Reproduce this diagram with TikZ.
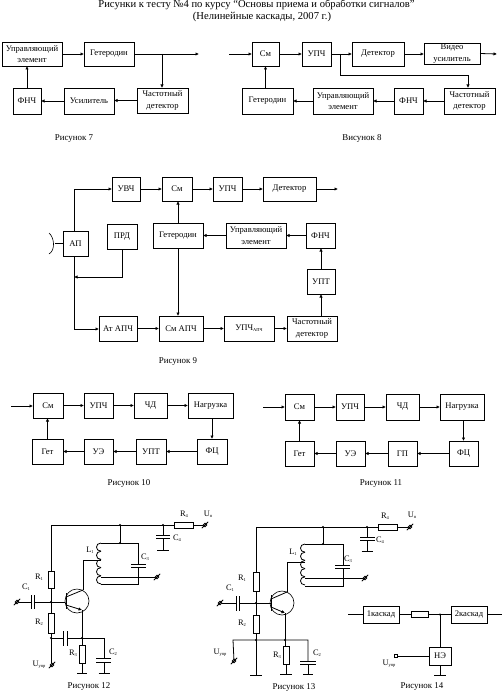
\documentclass[tikz,border=0pt]{standalone}
\usepackage{fontspec}
\setmainfont{Liberation Serif}
\usetikzlibrary{arrows.meta}
\newcommand{\bx}[6]{\node[blk,minimum width={(#4-#2)*1pt},minimum height={(#5-#3)*1pt}] (#1) at ({(#2+#4)/2},{(#3+#5)/2}) {#6};}
\newcommand{\ttl}[4]{\node[captxt] (#1) at (#2,#3) {#4};}
\newcommand{\low}[2]{#1\raisebox{-1.2pt}{\fontsize{4.5}{5}\selectfont #2}}
\newcommand{\resv}[3]{\draw[wire,fill=white] ({#1-3},#2) rectangle ({#1+3},#3);}
\newcommand{\resh}[3]{\draw[wire,fill=white] (#1,{#3-3}) rectangle (#2,{#3+3});}
\newcommand{\gnd}[3]{\draw[wire] ({#1-#3},#2) -- ({#1+#3},#2);}
\newcommand{\term}[2]{\draw[wire,fill=white] (#1,#2) circle[radius=1.8pt];\draw[wire] ({#1-3.2},{#2+3.2}) -- ({#1+3.2},{#2-3.2});}
\newcommand{\jn}[2]{\fill (#1,#2) circle[radius=1.2pt];}
\newcommand{\coil}[2]{\foreach \k in {0,...,4}{\draw[wire] (#1,{#2+\k*8.2}) .. controls ({#1-6},{#2+\k*8.2}) and ({#1-6},{#2+(\k+1)*8.2}) .. (#1,{#2+(\k+1)*8.2});}}
\tikzset{
 wire/.style={line width=0.8pt},
 arr/.style={wire,-{Latex[length=3.5pt,width=3.5pt]}},
 blk/.style={draw,line width=0.8pt,inner sep=0pt,outer sep=0pt,align=center,font=\fontsize{8.6}{11.5}\selectfont},
 captxt/.style={inner sep=0pt,font=\fontsize{8.9}{10}\selectfont},
 lab/.style={inner sep=0pt,font=\fontsize{8.4}{10}\selectfont},
 titletxt/.style={inner sep=0pt,font=\fontsize{10.6}{12}\selectfont},
}
\begin{document}
\begin{tikzpicture}[x=1pt,y=-1pt]
\useasboundingbox (0,0) rectangle (502,695);
\node[titletxt] (t1) at (256.5,5) {Рисунки к тесту №4 по курсу “Основы приема и обработки сигналов”};
\node[titletxt] (t2) at (262,17) {(Нелинейные каскады, 2007 г.)};

% Fig 7
\bx{a1}{2}{42}{62}{66}{Управляющий\\элемент}
\bx{a2}{84}{42}{134}{66}{Гетеродин}
\bx{a3}{137}{88}{188}{113}{Частотный\\детектор}
\bx{a4}{64}{88}{114}{114}{Усилитель}
\bx{a5}{13}{88}{41}{114}{ФНЧ}
\coordinate (a6) at (199,54);
\coordinate (a7) at (162,54);
\draw[arr] (a1) -- (a2);
\draw[arr] (a2.east) -- (a6);
\draw[arr] (a7) -- (a7 |- a3.north);
\draw[arr] (a3.west) -- (a3.west -| a4.east);
\draw[arr] (a4) -- (a5);
\draw[arr] (a5.north) -- (a5.north |- a1.south);
\ttl{c7}{74}{139}{Рисунок 7}

% Fig 8
\coordinate (b0) at (229,54);
\bx{b1}{252}{42}{279}{66}{См}
\bx{b2}{302}{42}{331}{66}{УПЧ}
\bx{b3}{352}{42}{404}{66}{Детектор}
\bx{b4}{424}{43}{480}{64}{Видео\\усилитель}
\coordinate (b5) at (497,54);
\bx{b6}{444}{88}{495}{114}{Частотный\\детектор}
\bx{b7}{394}{88}{423}{114}{ФНЧ}
\bx{b8}{313}{88}{373}{114}{Управляющий\\элемент}
\bx{b9}{242}{88}{293}{114}{Гетеродин}
\coordinate (b10) at (340,54);
\coordinate (b11) at (468,75);
\draw[arr] (b0) -- (b1.west |- b0);
\draw[arr] (b1) -- (b2);
\draw[arr] (b2) -- (b3);
\draw[arr] (b3.east) -- (b3.east -| b4.west);
\draw[arr] (b4.east) -- (b5);
\draw[arr] (b10) |- (b11) -- (b11 |- b6.north);
\draw[arr] (b6) -- (b7);
\draw[arr] (b7) -- (b8);
\draw[arr] (b8) -- (b9);
\draw[arr] (b1.south |- b9.north) -- (b1.south);
\ttl{c8}{362}{139}{Висунок 8}

% Fig 9
\bx{d1}{112}{177}{140}{201}{УВЧ}
\bx{d2}{162}{177}{192}{201}{См}
\bx{d3}{213}{177}{242}{201}{УПЧ}
\bx{d4}{263}{177}{316}{201}{Детектор}
\coordinate (d5) at (338,189);
\bx{d6}{63}{231}{88}{256}{АП}
\bx{d7}{107}{224}{137}{249}{ПРД}
\bx{d8}{153}{223}{203}{248}{Гетеродин}
\bx{d9}{226}{223}{286}{248}{Управляющий\\элемент}
\bx{d10}{306}{223}{335}{248}{ФНЧ}
\bx{d11}{307}{269}{335}{294}{УПТ}
\bx{d12}{287}{316}{337}{341}{Частотный\\детектор}
\bx{d13}{224}{316}{274}{341}{\low{УПЧ}{АПЧ}}
\bx{d14}{159}{316}{203}{341}{См АПЧ}
\bx{d15}{99}{316}{137}{341}{Ат АПЧ}
\coordinate (d16) at (74,277);
\coordinate (d17) at (74,189);
\coordinate (d18) at (74,329);
\coordinate (d19) at (55,243.5);
\draw[arr] (d17 |- d6.north) -- (d17) -- (d1.west |- d17);
\draw[arr] (d1) -- (d2);
\draw[arr] (d2) -- (d3);
\draw[arr] (d3) -- (d4);
\draw[arr] (d4.east) -- (d5);
\draw[arr] (d7.south) |- (d16);
\draw[arr] (d18 |- d6.south) -- (d18) -- (d15.west |- d18);
\draw[arr] (d15) -- (d14);
\draw[arr] (d14) -- (d13);
\draw[arr] (d13) -- (d12);
\draw[arr] (d8.north) -- (d8.north |- d2.south);
\draw[arr] (d8.south) -- (d8.south |- d14.north);
\draw[arr] (d9) -- (d8);
\draw[arr] (d10) -- (d9);
\draw[arr] (d11.north) -- (d11.north |- d10.south);
\draw[arr] (d11.south |- d12.north) -- (d11.south);
\draw[wire] (d6.west) -- (d19);
\draw[line width=0.6pt] (49,233) .. controls (54,237) and (56,250) .. (49,254);
\ttl{c9}{178}{362}{Рисунок 9}

% Fig 10
\coordinate (e0) at (11,406);
\bx{e1}{33}{393}{63}{418}{См}
\bx{e2}{84}{393}{113}{418}{УПЧ}
\bx{e3}{134}{393}{167}{418}{ЧД}
\bx{e4}{188}{393}{233}{418}{Нагрузка}
\bx{e5}{197}{439}{227}{464}{ФЦ}
\bx{e6}{136}{439}{166}{464}{УПТ}
\bx{e7}{84}{439}{113}{464}{УЭ}
\bx{e8}{32}{439}{63}{464}{Гет}
\draw[arr] (e0) -- (e1.west |- e0);
\draw[arr] (e1) -- (e2);
\draw[arr] (e2) -- (e3);
\draw[arr] (e3) -- (e4);
\draw[arr] (e5.north |- e4.south) -- (e5.north);
\draw[arr] (e5) -- (e6);
\draw[arr] (e6) -- (e7);
\draw[arr] (e7) -- (e8);
\draw[arr] (e8.north) -- (e8.north |- e1.south);
\ttl{c10}{129}{483}{Рисунок 10}

% Fig 11
\coordinate (f0) at (263,407);
\bx{f1}{285}{394}{314}{420}{См}
\bx{f2}{336}{394}{364}{420}{УПЧ}
\bx{f3}{386}{394}{419}{420}{ЧД}
\bx{f4}{440}{394}{484}{420}{Нагрузка}
\bx{f5}{449}{441}{478}{466}{ФЦ}
\bx{f6}{388}{441}{417}{466}{ГП}
\bx{f7}{336}{441}{365}{466}{УЭ}
\bx{f8}{285}{441}{314}{466}{Гет}
\draw[arr] (f0) -- (f1.west |- f0);
\draw[arr] (f1) -- (f2);
\draw[arr] (f2) -- (f3);
\draw[arr] (f3) -- (f4);
\draw[arr] (f5.north |- f4.south) -- (f5.north);
\draw[arr] (f5) -- (f6);
\draw[arr] (f6) -- (f7);
\draw[arr] (f7) -- (f8);
\draw[arr] (f8.north) -- (f8.north |- f1.south);
\ttl{c11}{381}{484}{Рисунок 11}

% Fig 12
\draw[wire] (203,525) -- (51,525) -- (51,663);
\resh{174}{193}{525}
\jn{120}{525}\jn{120}{543}\jn{163}{525}
\draw[wire] (120,525) -- (120,543);
\draw[wire] (101,543) -- (138,543) -- (138,564);
\draw[wire] (138,567) -- (138,584) -- (101,584);
\draw[wire] (131,564) -- (146,564) (131,567) -- (146,567);
\coil{101}{543}
\draw[wire] (101,560) -- (83,560) -- (83,590);
\draw[wire] (101,577) -- (155,577);
\term{157}{577}
\term{205}{525}
\draw[wire] (163,525) -- (163,535) (163,538) -- (163,550);
\draw[wire] (156,535) -- (170,535) (156,538) -- (170,538);
\gnd{163}{550}{6}
\resv{51}{571}{588}
\resv{51}{613}{633}
\jn{51}{602}\jn{51}{638}
\draw[wire] (19,602) -- (31,602) (34.5,602) -- (65,602);
\draw[wire] (31,595) -- (31,609) (34.5,595) -- (34.5,609);
\term{17}{602}
\draw[line width=0.6pt] (77,601) circle[radius=12pt];
\draw[line width=1pt] (66,593) -- (66,609);
\draw[wire] (66,597) -- (83,590);
\draw[arr] (66,605) -- (82,610);
\draw[wire] (82,610) -- (82,645);
\draw[wire] (51,638) -- (63,638) (67,638) -- (104,638) -- (104,658);
\draw[wire] (63,631) -- (63,646) (67,631) -- (67,646);
\jn{82}{638}
\resv{82}{645}{663}
\draw[wire] (82,663) -- (82,673);
\gnd{82}{673}{5}
\draw[wire] (96,658) -- (111,658) (96,662) -- (111,662);
\draw[wire] (104,662) -- (104,673);
\gnd{104}{673}{5.5}
\term{52}{665}
\node[lab] at (184,514) {\low{R}{4}};
\node[lab] at (208,514) {\low{U}{п}};
\node[lab] at (177,538) {\low{C}{4}};
\node[lab] at (90,550) {\low{L}{1}};
\node[lab] at (145,557) {\low{C}{3}};
\node[lab] at (39,577) {\low{R}{1}};
\node[lab] at (26,587) {\low{C}{1}};
\node[lab] at (39,622) {\low{R}{2}};
\node[lab] at (73,653) {\low{R}{3}};
\node[lab] at (113,652) {\low{C}{2}};
\node[lab] at (39,665) {\low{U}{упр}};
\ttl{c12}{89}{687}{Рисунок 12}

% Fig 13
\draw[wire] (408,527) -- (256,527) -- (256,675);
\gnd{256}{675}{6}
\resh{378}{397}{527}
\jn{323}{527}\jn{323}{544}\jn{367}{527}
\draw[wire] (323,527) -- (323,544);
\draw[wire] (305,544) -- (343,544) -- (343,565);
\draw[wire] (343,568) -- (343,586) -- (305,586);
\draw[wire] (335,565) -- (350,565) (335,568) -- (350,568);
\coil{305}{544}
\draw[wire] (305,562) -- (287,562) -- (287,592);
\draw[wire] (305,578) -- (363,578);
\term{365}{578}
\term{410}{527}
\draw[wire] (367,527) -- (367,537) (367,540) -- (367,551);
\draw[wire] (360,537) -- (375,537) (360,540) -- (375,540);
\gnd{367}{551}{5.5}
\resv{256}{572}{591}
\resv{256}{615}{633}
\jn{256}{603}\jn{256}{640}\jn{285}{640}
\draw[wire] (222,603) -- (236,603) (239.5,603) -- (271,603);
\draw[wire] (236,596) -- (236,611) (239.5,596) -- (239.5,611);
\term{220}{603}
\draw[line width=0.6pt] (282,603) circle[radius=12pt];
\draw[line width=1pt] (271,595) -- (271,611);
\draw[wire] (271,599) -- (287,592);
\draw[arr] (271,607) -- (285,613);
\draw[wire] (285,613) -- (285,646);
\draw[wire] (234,661) -- (233,640) -- (308,640) -- (308,661);
\resv{286}{646}{664}
\draw[wire] (286,664) -- (286,674);
\gnd{286}{674}{6}
\draw[wire] (300,661) -- (316,661) (300,664) -- (316,664);
\draw[wire] (308,664) -- (308,674);
\gnd{308}{674}{5}
\term{234}{661}
\node[lab] at (385,516) {\low{R}{4}};
\node[lab] at (412,515) {\low{U}{п}};
\node[lab] at (380,540) {\low{C}{4}};
\node[lab] at (293,552) {\low{L}{1}};
\node[lab] at (348,559) {\low{C}{3}};
\node[lab] at (242,578) {\low{R}{1}};
\node[lab] at (230,588) {\low{C}{1}};
\node[lab] at (242,623) {\low{R}{2}};
\node[lab] at (277,655) {\low{R}{3}};
\node[lab] at (317,653) {\low{C}{2}};
\node[lab] at (220,653) {\low{U}{упр}};
\ttl{c13}{294}{688}{Рисунок 13}

% Fig 14
\coordinate (g0) at (348,614.5);
\coordinate (g1) at (502,614.5);
\coordinate (g2) at (440,614.5);
\coordinate (g3) at (397,656);
\coordinate (g4) at (440,675);
\bx{g5}{363}{606}{399}{623}{1каскад}
\bx{g6}{451}{606}{487}{623}{2каскад}
\bx{g7}{429}{647}{451}{665}{НЭ}
\node[draw,wire,inner sep=0pt,minimum width=17pt,minimum height=5.5pt] (g8) at (419.5,614.5) {};
\draw[wire] (g0) -- (g5);
\draw[wire] (g5) -- (g8);
\draw[wire] (g8) -- (g6);
\draw[wire] (g6) -- (g1);
\draw[wire] (g2) -- (g7.north);
\draw[wire] (g7.west) -- (g3);
\draw[wire] (g7.south) -- (g4);
\gnd{440}{675}{6}
\jn{440}{614.5}
\draw[wire] (394,654.5) rectangle (397,657.5);
\node[lab] at (389,664) {\low{U}{упр}};
\ttl{c14}{422}{687}{Рисунок 14}
\end{tikzpicture}
\end{document}
